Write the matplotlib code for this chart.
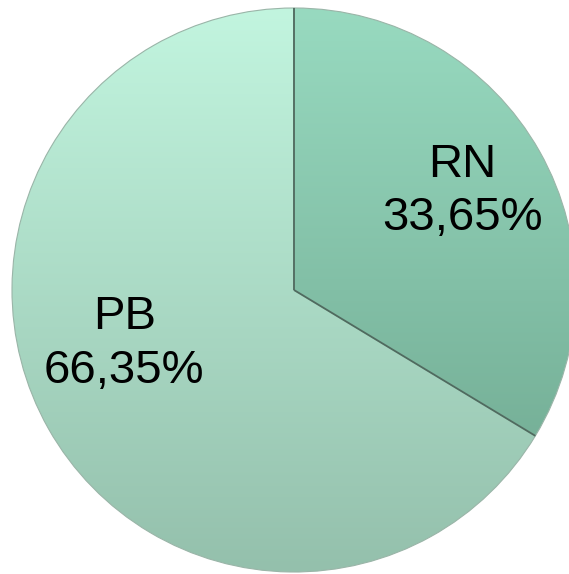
import numpy as np
import matplotlib
matplotlib.use('Agg')
import matplotlib.pyplot as plt
from matplotlib.colors import LinearSegmentedColormap

labels = ['RN', 'PB']
shares = [33.65, 66.35]
pct_text = ['33,65%', '66,35%']

# gradient colours per slice (top -> bottom)
grads = [('#98dac0', '#6ca48c'), ('#c2f5df', '#94c0ac')]

fig = plt.figure(figsize=(5.69, 5.74), dpi=100)
ax = fig.add_axes([0, 0, 1, 1])

cx, cy, r = 294, 284, 282
wedges, _ = ax.pie(shares, startangle=90, counterclock=False,
                   center=(cx, cy), radius=r, frame=True,
                   wedgeprops=dict(edgecolor='#9ab5a8', linewidth=0.8))

grad = np.linspace(0, 1, 256).reshape(-1, 1)
for w, (top, bot) in zip(wedges, grads):
    cmap = LinearSegmentedColormap.from_list('g', [top, bot])
    im = ax.imshow(grad, cmap=cmap, aspect='auto',
                   extent=(cx - r, cx + r, cy - r, cy + r), origin='upper', zorder=1)
    im.set_clip_path(w)
    w.set_facecolor('none')
    w.set_zorder(2)

# darker slice boundaries (radii)
for w in wedges:
    a = np.deg2rad(w.theta1)
    ax.plot([cx, cx + r * np.cos(a)], [cy, cy + r * np.sin(a)],
            color='#4f6b5f', lw=1.3, zorder=3, solid_capstyle='butt')

ax.set_xlim(0, 569)
ax.set_ylim(0, 574)
ax.set_aspect('equal')
ax.axis('off')

font = dict(family=['Liberation Sans', 'DejaVu Sans'], fontsize=34, color='black',
            ha='center', va='baseline', zorder=4)
ax.text(462, 574 - 177, labels[0], **font)
ax.text(462, 574 - 230, pct_text[0], **font)
ax.text(125, 574 - 329, labels[1], **font)
ax.text(124, 574 - 383, pct_text[1], **font)

fig.savefig('out.png', dpi=100, facecolor='white')
